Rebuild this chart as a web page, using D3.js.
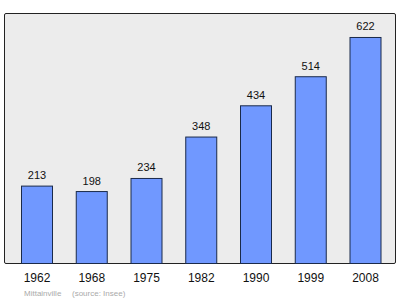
<!DOCTYPE html>
<html><head><meta charset="utf-8">
<script src="https://cdn.jsdelivr.net/npm/d3@7"></script>
<style>html,body{margin:0;padding:0;background:#fff;}</style>
</head><body>
<svg id="c" width="400" height="299"></svg>
<script>
const years = ["1962","1968","1975","1982","1990","1999","2008"];
const population = [213,198,234,348,434,514,622];
const commune = "Mittainville";
const source = "(source: Insee)";

const svg = d3.select("#c");
const frame = {l:4.5, t:13.5, r:395.5, b:263.5};
svg.append("rect").attr("x",frame.l).attr("y",frame.t)
  .attr("width",frame.r-frame.l).attr("height",frame.b-frame.t)
  .attr("rx",1.5).attr("fill","#ececec").attr("stroke","#222").attr("stroke-width",1);

const x = d3.scalePoint().domain(years).range([36.5,365]);
const y = d3.scaleLinear().domain([0,688]).range([263.5,13.5]);
const bw = 31;

svg.selectAll(".bar").data(population).enter().append("rect")
  .attr("x",(d,i)=>x(years[i])-bw/2+0.5)
  .attr("y",d=>y(d))
  .attr("width",bw).attr("height",d=>y(0)-y(d))
  .attr("fill","#7098ff").attr("stroke","#1a2a4a").attr("stroke-width",1);

svg.selectAll(".val").data(population).enter().append("text")
  .attr("x",(d,i)=>x(years[i])+0.5).attr("y",d=>y(d)-7)
  .attr("text-anchor","middle").attr("font-family","Liberation Sans, Arial, sans-serif")
  .attr("font-size",11).attr("fill","#111").text(d=>d);

const ax = svg.append("g").attr("transform","translate(0.5,0)");
ax.selectAll("text").data(years).enter().append("text")
  .attr("x",d=>x(d)).attr("y",282)
  .attr("text-anchor","middle").attr("font-family","Liberation Sans, Arial, sans-serif")
  .attr("font-size",12).attr("fill","#111").text(d=>d);

svg.append("text").attr("x",24).attr("y",295.5)
  .attr("font-family","Liberation Sans, Arial, sans-serif").attr("font-size",8)
  .attr("fill","#aaa").text(commune);
svg.append("text").attr("x",72).attr("y",295.5)
  .attr("font-family","Liberation Sans, Arial, sans-serif").attr("font-size",8)
  .attr("fill","#aaa").text(source);
</script>
</body></html>
